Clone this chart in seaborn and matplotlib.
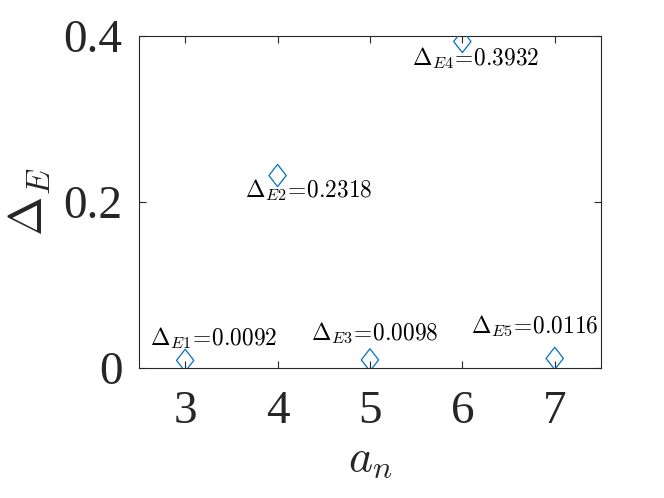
import pandas as pd
import seaborn as sns
import matplotlib.pyplot as plt
from matplotlib.path import Path

# Data
a_n = [3, 4, 5, 6, 7]
delta_e = [0.0092, 0.2318, 0.0098, 0.3932, 0.0116]
labels = [r"$\Delta_{E1}\!=\!0.0092$", r"$\Delta_{E2}\!=\!0.2318$", r"$\Delta_{E3}\!=\!0.0098$",
          r"$\Delta_{E4}\!=\!0.3932$", r"$\Delta_{E5}\!=\!0.0116$"]
# text anchor (left, middle) in data coords
label_x = [2.62, 3.65, 4.36, 5.46, 6.09]
label_y = [0.036, 0.2145, 0.042, 0.3735, 0.0506]

df = pd.DataFrame({"a_n": a_n, "delta_e": delta_e})

sns.set_style("ticks")
plt.rcParams["font.family"] = ["Liberation Serif", "DejaVu Serif"]
plt.rcParams["mathtext.fontset"] = "cm"

fig = plt.figure(figsize=(6.64, 4.98), dpi=100)
ax = fig.add_axes([0.2093, 0.261, 0.905 - 0.2093, 0.928 - 0.261])

# MATLAB-like diamond (taller than wide)
diamond = Path([(0, 1), (0.78, 0), (0, -1), (-0.78, 0), (0, 1)],
               [Path.MOVETO, Path.LINETO, Path.LINETO, Path.LINETO, Path.CLOSEPOLY])

sns.scatterplot(data=df, x="a_n", y="delta_e", marker=diamond, s=16 ** 2,
                facecolor="none", edgecolor="#0072BD", linewidth=0.9, ax=ax, zorder=3)

for tx, ty, lab in zip(label_x, label_y, labels):
    ax.text(tx, ty, lab, ha="left", va="center", fontsize=16.8, color="black")

ax.set_xlim(2.5, 7.5)
ax.set_ylim(0, 0.4)
ax.set_xticks([3, 4, 5, 6, 7])
ax.set_yticks([0, 0.2, 0.4])
ax.set_yticklabels(["0", "0.2", "0.4"])

ax.set_xlabel(r"$a_n$", fontsize=33, color="#262626", labelpad=4)
ax.set_ylabel(r"$\Delta_E$", fontsize=34, color="#262626", labelpad=8)

ax.tick_params(direction="in", length=5, width=0.8, colors="#262626",
               labelsize=34, top=True, right=True)
ax.tick_params(axis="x", pad=16)
ax.tick_params(axis="y", pad=12)
for sp in ax.spines.values():
    sp.set_visible(True)
    sp.set_color("#262626")
    sp.set_linewidth(0.8)

fig.savefig("out.png", dpi=100)
